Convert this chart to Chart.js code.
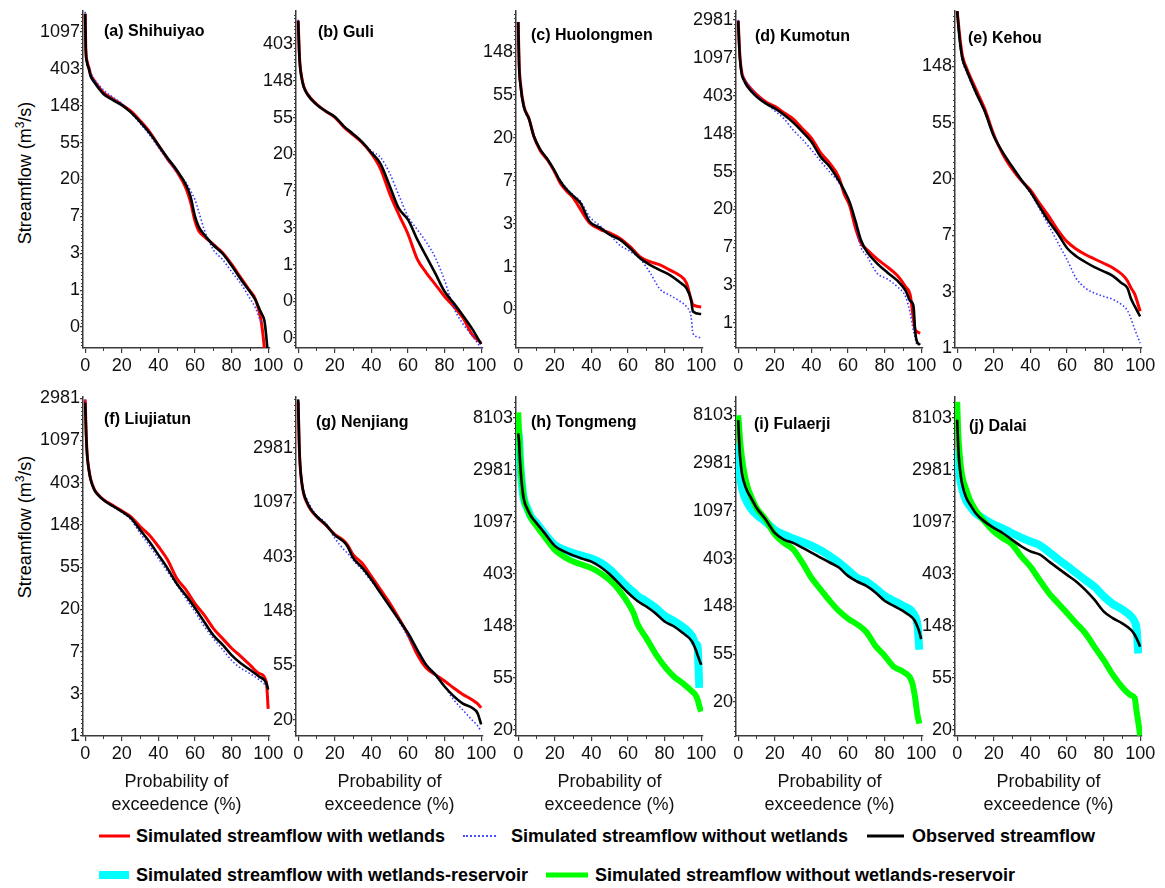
<!doctype html>
<html>
<head>
<meta charset="UTF-8">
<title>Flow duration curves</title>
<script src="https://cdn.jsdelivr.net/npm/chart.js@4.4.1/dist/chart.umd.min.js"></script>
<style>
  body { margin: 0; background: #fff; font-family: "Liberation Sans", Arial, sans-serif; }
  #page { position: relative; width: 1165px; height: 888px; overflow: hidden; }
  canvas { position: absolute; }
  .ytitle { position: absolute; font-size: 18px; white-space: nowrap; color: #000;
            transform: translate(-50%, -50%) rotate(-90deg); }
  .ytitle sup { font-size: 12px; }
  .key { position: absolute; font-size: 18px; font-weight: bold; white-space: nowrap; color: #000;
         transform: translateY(-50%); }
  .swatch { position: absolute; transform: translateY(-50%); }
</style>
</head>
<body>
<div id="page">
  <div class="ytitle" style="left:24px;top:173px">Streamflow (m<sup>3</sup>/s)</div>
  <div class="ytitle" style="left:24px;top:527px">Streamflow (m<sup>3</sup>/s)</div>

  <div class="swatch" style="left:99px;top:836px;width:31px;height:3px;background:#ff0000"></div>
  <div class="key" style="left:136px;top:836px">Simulated streamflow with wetlands</div>
  <div class="swatch" style="left:463px;top:836px;width:33px;height:0;border-top:2px dotted #4a4aff"></div>
  <div class="key" style="left:511px;top:836px">Simulated streamflow without wetlands</div>
  <div class="swatch" style="left:867px;top:836px;width:37px;height:3px;background:#000"></div>
  <div class="key" style="left:912px;top:836px">Observed streamflow</div>

  <div class="swatch" style="left:99px;top:875px;width:30px;height:8px;background:#00ffff"></div>
  <div class="key" style="left:136px;top:875px">Simulated streamflow with wetlands-reservoir</div>
  <div class="swatch" style="left:546px;top:875px;width:42px;height:5px;background:#00ff00"></div>
  <div class="key" style="left:595px;top:875px">Simulated streamflow without wetlands-reservoir</div>
</div>

<script>
// probability of exceedence (%) and streamflow (m3/s)
const aP     = [0, 0.3, 1, 2, 3, 5, 10, 15, 20, 25, 30, 35, 40, 45, 50, 55, 57.5, 60, 62, 65, 70, 75, 80, 85, 89.4, 93, 96, 97, 98, 99, 99.6]
const aObs   = [1800, 700, 480, 403, 330, 280, 204, 174, 151, 124, 96, 72, 51, 36, 26, 17.5, 12.8, 7.4, 5.6, 4.5, 3.4, 2.7, 1.95, 1.35, 1.0, 0.77, 0.55, 0.5, 0.43, 0.28, 0.2]
const aWet   = [1800, 720, 500, 420, 345, 292, 212, 180, 153, 128, 99, 74, 51, 35, 25, 16, 11, 6.5, 5.0, 4.3, 3.45, 2.78, 2.02, 1.4, 1.02, 0.78, 0.45, 0.32, 0.2, null, null]
const aNoWet = [1900, 720, 510, 430, 365, 305, 228, 188, 158, 122, 92, 68, 48, 34, 25, 18.5, 15, 11.6, 8.5, 5.2, 3.0, 2.3, 1.65, 1.2, 0.84, 0.62, 0.43, 0.41, null, null, null]

const bP     = [0, 0.5, 1, 2, 3, 5, 10, 15, 20, 25, 30, 35, 40, 45, 50, 55, 60, 65, 70, 75, 80, 85, 90, 95, 100]
const bObs   = [760, 350, 224, 156, 127, 103, 78, 65, 56, 43, 35, 28, 21, 15.5, 8.5, 4.6, 3.4, 2.0, 1.25, 0.78, 0.48, 0.35, 0.25, 0.175, 0.115]
const bWet   = [760, 360, 230, 160, 128, 104, 79, 65, 55, 42, 34, 27.5, 20.5, 13.5, 6.9, 3.9, 2.3, 1.17, 0.8, 0.58, 0.42, 0.32, 0.235, 0.15, 0.118]
const bNoWet = [780, 360, 230, 160, 128, 104, 79, 66, 56, 43, 35, 28, 22, 18.5, 12, 6.6, 3.7, 2.6, 1.85, 1.2, 0.65, 0.31, 0.2, 0.145, 0.103]

const cP     = [0, 0.5, 1.3, 3, 6, 8.5, 12, 16, 19.5, 23, 26.5, 30, 34, 39, 45, 50, 55.5, 61, 66.5, 72, 77.5, 83, 88, 92, 94.5, 95.5, 100]
const cObs   = [300, 109, 68, 42, 31, 21, 15.4, 12.2, 9.6, 7.3, 6.0, 5.2, 4.4, 2.86, 2.45, 2.1, 1.87, 1.54, 1.22, 1.04, 0.92, 0.82, 0.7, 0.6, 0.46, 0.35, 0.33]
const cWet   = [300, 115, 70, 43, 31, 21, 15, 12, 9.4, 7.0, 5.8, 5.0, 3.8, 2.77, 2.37, 2.19, 1.94, 1.6, 1.26, 1.12, 1.04, 0.92, 0.82, 0.68, 0.46, 0.41, 0.39]
const cNoWet = [300, 105, 66, 41, 30, 21, 15.5, 12.3, 9.7, 7.5, 6.2, 5.3, 4.6, 3.2, 2.56, 2.1, 1.65, 1.43, 1.2, 0.87, 0.59, 0.51, 0.45, 0.39, 0.31, 0.21, 0.19]

const dP     = [0, 0.5, 1, 2, 3, 5, 10, 15, 20, 25, 30, 35, 40, 45, 50, 55, 58, 61, 64, 67, 70.5, 76, 81.5, 87, 91.5, 94, 95.8, 96.7, 97.6, 99.4]
const dObs   = [2900, 1630, 1050, 706, 615, 517, 395, 330, 290, 245, 200, 157, 120, 81, 62, 43, 33, 24, 15, 9, 6.5, 4.8, 3.8, 3.06, 2.35, 1.8, 1.57, 0.81, 0.62, 0.56]
const dWet   = [2950, 1700, 1100, 740, 640, 545, 420, 345, 305, 258, 220, 170, 132, 90, 68, 47, 30, 22, 12.5, 8.3, 6.9, 5.4, 4.4, 3.5, 2.6, 2.1, 1.1, 0.84, 0.8, 0.76]
const dNoWet = [3000, 1700, 1120, 760, 660, 560, 415, 337, 270, 221, 164, 128, 97, 72, 54, 41, 32, 24, 14, 7.5, 5.8, 3.7, 3.2, 2.6, 2.0, 1.3, 0.81, 0.68, 0.56, null]

const eP     = [0, 1, 2, 3, 5, 10, 15, 20, 25, 30, 35, 40, 45, 50, 55, 60, 65, 70, 75, 80, 85, 90, 93, 95, 97, 100]
const eObs   = [395, 268, 200, 167, 140, 95, 67, 43, 32, 25, 19.8, 16, 12.3, 9.5, 7.6, 5.9, 5.1, 4.6, 4.2, 3.9, 3.6, 3.15, 2.9, 2.4, 2.1, 1.75]
const eWet   = [395, 285, 215, 175, 145, 100, 70, 44, 31, 24, 19.5, 16.5, 13, 10.4, 8.1, 6.6, 5.8, 5.25, 4.85, 4.5, 4.15, 3.7, 3.3, 2.9, 2.6, 1.92]
const eNoWet = [395, 260, 190, 160, 135, 93, 66, 43, 32, 25, 19.5, 15.6, 11.8, 8.8, 6.5, 4.8, 3.45, 2.9, 2.65, 2.5, 2.37, 2.15, 1.95, 1.68, 1.4, 1.09]

const fP     = [0, 0.5, 1, 2, 3, 5, 7, 10, 15, 20, 25, 30, 35, 40, 45, 50, 55, 60, 65, 70, 75, 80, 85, 90, 95, 99, 100]
const fObs   = [2700, 1300, 810, 545, 432, 340, 302, 268, 233, 204, 174, 132, 100, 73, 53, 37, 28, 20.7, 15, 10.9, 8.7, 6.8, 5.6, 4.8, 4.1, 3.5, 3.0]
const fWet   = [2900, 1350, 830, 555, 440, 345, 305, 270, 236, 207, 180, 143, 117, 89, 65, 42, 32, 23, 17.6, 12.8, 10.1, 8, 6.6, 5.4, 4.4, 3.6, 1.9]
const fNoWet = [2900, 1300, 800, 540, 430, 340, 305, 270, 233, 200, 168, 122, 92, 67, 49, 36, 26, 19, 13.5, 10.1, 7.8, 6.0, 5.0, 4.4, 3.8, 3.3, 3.2]

const gP     = [0, 0.5, 1, 2, 3, 5, 7, 10, 15, 20, 25, 27, 30, 35, 40, 45, 50, 55, 60, 65, 70, 75, 80, 85, 90, 95, 98, 100]
const gObs   = [7300, 3460, 2250, 1570, 1300, 1085, 960, 850, 730, 600, 530, 487, 395, 330, 265, 207, 162, 127, 99, 73, 55, 46, 37, 31, 27, 25, 22.7, 18.4]
const gWet   = [7000, 3300, 2200, 1550, 1280, 1070, 950, 845, 725, 610, 540, 500, 420, 358, 281, 220, 172, 130, 96, 67, 52, 46, 41, 36, 32, 29, 27, 25]
const gNoWet = [7300, 3500, 2300, 1620, 1330, 1150, 1000, 870, 750, 567, 459, 430, 380, 317, 257, 207, 162, 123, 93, 71, 55, 45, 37, 29, 24, 20, 18, 16.2]

const hP     = [0, 0.5, 1, 2, 3, 5, 7, 10, 15, 20, 25, 30, 35, 40, 45, 50, 55, 60, 63, 65, 70, 75, 80, 85, 90, 95, 97, 98, 99, 100]
const hObs   = [6000, 5000, 3500, 2250, 1720, 1400, 1220, 1070, 860, 690, 620, 575, 540, 510, 460, 400, 335, 280, 255, 240, 215, 189, 161, 147, 129, 110, 94, 85, 77, 70]
const hRes   = [6400, 5300, 3600, 2300, 1730, 1420, 1210, 1070, 850, 700, 640, 600, 570, 540, 500, 440, 370, 310, 285, 265, 238, 210, 180, 163, 145, 122, 105, 100, 45, null]
const hNoRes = [9000, 6000, 3900, 2400, 1750, 1380, 1180, 1010, 800, 640, 560, 510, 480, 450, 408, 358, 296, 230, 190, 156, 117, 87, 68, 56, 49, 42, 39, 36, 31.6, 28.5]

const iP     = [0, 0.5, 1, 2, 3, 5, 7, 10, 15, 20, 25, 30, 35, 40, 45, 50, 55, 60, 65, 70, 75, 80, 85, 90, 95, 96.5, 98, 99, 100]
const iObs   = [7300, 4850, 3430, 2420, 2030, 1650, 1440, 1170, 915, 690, 600, 560, 507, 458, 412, 372, 335, 281, 250, 228, 199, 167, 150, 135, 118, 110, 97, 87, 75]
const iRes   = [4500, 3000, 2300, 1800, 1550, 1300, 1150, 1010, 870, 735, 665, 615, 570, 530, 480, 425, 372, 317, 270, 250, 217, 185, 167, 151, 134, 122, 100, 60, null]
const iNoRes = [8100, 6500, 4850, 3400, 2600, 1830, 1490, 1170, 915, 670, 560, 490, 372, 270, 212, 167, 135, 115, 102, 87, 65, 53, 42, 38, 30.5, 23, 15.2, 12.8, null]

const jP     = [0, 0.5, 1, 2, 3, 5, 7, 10, 15, 20, 25, 30, 35, 40, 45, 50, 55, 60, 65, 70, 75, 80, 85, 90, 95, 97, 98, 99, 100]
const jObs   = [7800, 4970, 3620, 2620, 2160, 1730, 1530, 1300, 1100, 975, 880, 775, 685, 620, 585, 513, 450, 395, 348, 296, 245, 196, 172, 156, 137, 125, 117, 108, 99]
const jRes   = [4400, 3500, 2980, 2320, 2000, 1640, 1480, 1300, 1150, 1040, 960, 880, 810, 750, 700, 615, 535, 470, 410, 358, 314, 262, 226, 204, 178, 160, 141, 87, null]
const jNoRes = [11000, 6500, 4670, 3170, 2540, 2030, 1670, 1380, 1100, 910, 800, 710, 563, 463, 358, 280, 230, 190, 156, 129, 99, 77, 58, 46, 39, 37, 29, 23, 18]

const xTicks = [0, 20, 40, 60, 80, 100]
const xMinor = [10, 30, 50, 70, 90]

const FONT = '"Liberation Sans", Arial, sans-serif'
const AXIS = '#3a3a3a'

const STYLE = {
  obs:   { borderColor: '#000000', borderWidth: 2.6 },
  wet:   { borderColor: '#ff0000', borderWidth: 3 },
  nowet: { borderColor: '#3a3aff', borderWidth: 1.6, borderDash: [1.5, 2.2] },
  res:   { borderColor: '#00ffff', borderWidth: 8 },
  nores: { borderColor: '#00ff00', borderWidth: 6 }
}

// y ranges are natural-log limits of each panel
const panels = [
  { title: '(a) Shihuiyao',  row: 0, col: 0, ln: [-1.57, 7.57], tx: 21, ty: 21, p: aP, lines: [['obs', aObs], ['nowet', aNoWet], ['wet', aWet]] },
  { title: '(b) Guli',       row: 0, col: 1, ln: [-2.27, 6.9],  tx: 22, ty: 22, p: bP, lines: [['obs', bObs], ['nowet', bNoWet], ['wet', bWet]] },
  { title: '(c) Huolongmen', row: 0, col: 2, ln: [-1.9, 5.96],  tx: 15, ty: 25, p: cP, lines: [['obs', cObs], ['nowet', cNoWet], ['wet', cWet]] },
  { title: '(d) Kumotun',    row: 0, col: 3, ln: [-0.66, 8.24], tx: 19, ty: 26, p: dP, lines: [['obs', dObs], ['nowet', dNoWet], ['wet', dWet]] },
  { title: '(e) Kehou',      row: 0, col: 4, ln: [0, 5.98],     tx: 13, ty: 28, p: eP, lines: [['obs', eObs], ['nowet', eNoWet], ['wet', eWet]] },
  { title: '(f) Liujiatun',  row: 1, col: 0, ln: [0, 8.03],     tx: 21, ty: 23, p: fP, lines: [['obs', fObs], ['nowet', fNoWet], ['wet', fWet]] },
  { title: '(g) Nenjiang',   row: 1, col: 1, ln: [2.7, 8.94],   tx: 20, ty: 26, p: gP, lines: [['obs', gObs], ['nowet', gNoWet], ['wet', gWet]] },
  { title: '(h) Tongmeng',   row: 1, col: 2, ln: [2.88, 9.4],   tx: 15, ty: 26, p: hP, lines: [['obs', hObs], ['nores', hNoRes], ['res', hRes]] },
  { title: '(i) Fulaerji',   row: 1, col: 3, ln: [2.29, 9.38],  tx: 18, ty: 28, p: iP, lines: [['obs', iObs], ['nores', iNoRes], ['res', iRes]] },
  { title: '(j) Dalai',      row: 1, col: 4, ln: [2.88, 9.4],   tx: 14, ty: 30, p: jP, lines: [['obs', jObs], ['nores', jNoRes], ['res', jRes]] }
]

const ROWS = [
  { top: 11,  bottom: 348, padTop: 11, axisH: 36, xTitle: false },
  { top: 397, bottom: 736, padTop: 14, axisH: 82, xTitle: true }
]
const COL_LEFT = [83, 296, 516, 736, 955]
const Y_AXIS_W = 80, PAD_RIGHT = 20, PLOT_W = 187

// minor ticks + panel label
const deco = {
  id: 'deco',
  afterDraw(chart, args, o) {
    const ctx = chart.ctx, a = chart.chartArea
    const x = chart.scales.x, y = chart.scales.y
    ctx.save()
    ctx.strokeStyle = AXIS
    ctx.lineWidth = 1
    ctx.beginPath()
    xMinor.forEach(v => {
      const px = Math.round(x.getPixelForValue(v)) + 0.5
      ctx.moveTo(px, a.bottom); ctx.lineTo(px, a.bottom + 3)
    })
    const lo = Math.log(y.min), hi = Math.log(y.max)
    for (let k = Math.floor(lo); k < hi; k++) {
      for (let j = 1; j < 10; j++) {
        const v = k + j / 10
        if (v <= lo || v >= hi) continue
        const py = Math.round(y.getPixelForValue(Math.exp(v))) + 0.5
        ctx.moveTo(a.left, py); ctx.lineTo(a.left - 2, py)
      }
    }
    ctx.stroke()
    ctx.fillStyle = '#000'
    ctx.font = 'bold 16px ' + FONT
    ctx.textBaseline = 'middle'
    ctx.fillText(o.title, a.left + o.dx, a.top + o.dy)
    ctx.restore()
  }
}

const page = document.getElementById('page')

panels.forEach(pn => {
  const row = ROWS[pn.row]
  const w = Y_AXIS_W + PLOT_W + PAD_RIGHT
  const h = row.padTop + (row.bottom - row.top) + row.axisH
  const cv = document.createElement('canvas')
  cv.width = w; cv.height = h
  cv.style.left = (COL_LEFT[pn.col] - Y_AXIS_W) + 'px'
  cv.style.top = (row.top - row.padTop) + 'px'
  cv.style.width = w + 'px'; cv.style.height = h + 'px'
  page.appendChild(cv)

  const datasets = pn.lines.map(([kind, vals]) => Object.assign({
    data: pn.p.map((p, i) => ({ x: p, y: vals[i] })).filter(d => d.y !== null),
    pointRadius: 0,
    fill: false,
    cubicInterpolationMode: 'monotone'
  }, STYLE[kind]))

  const yTicks = []
  for (let k = Math.ceil(pn.ln[0]); k <= Math.floor(pn.ln[1]); k++) yTicks.push(Math.exp(k))

  new Chart(cv, {
    type: 'line',
    data: { datasets },
    plugins: [deco],
    options: {
      responsive: false,
      devicePixelRatio: 1,
      animation: false,
      events: [],
      layout: { padding: { left: 0, right: PAD_RIGHT, top: row.padTop, bottom: 0 } },
      plugins: {
        legend: { display: false },
        tooltip: { enabled: false },
        deco: { title: pn.title, dx: pn.tx, dy: pn.ty }
      },
      scales: {
        x: {
          type: 'linear', min: -1.2, max: 101, bounds: 'data',
          afterBuildTicks: s => { s.ticks = xTicks.map(v => ({ value: v })) },
          afterFit: s => { s.height = row.axisH },
          ticks: { autoSkip: false, maxRotation: 0, minRotation: 0, padding: 2, color: '#111',
                   font: { size: 18, family: FONT }, callback: v => String(v) },
          grid: { display: true, drawOnChartArea: false, drawTicks: true, tickLength: 5, color: AXIS, lineWidth: 1.2 },
          border: { display: true, color: AXIS, width: 1.5 },
          title: { display: row.xTitle, text: ['Probability of', 'exceedence (%)'], color: '#111',
                   font: { size: 18, family: FONT, lineHeight: 1.3 }, padding: { top: 0, bottom: 1 } }
        },
        y: {
          type: 'logarithmic', min: Math.exp(pn.ln[0]), max: Math.exp(pn.ln[1]), bounds: 'data',
          afterBuildTicks: s => { s.ticks = yTicks.map(v => ({ value: v })) },
          afterFit: s => { s.width = Y_AXIS_W },
          ticks: { autoSkip: false, padding: 0, color: '#111', font: { size: 18, family: FONT },
                   callback: v => String(Math.round(v)) },
          grid: { display: true, drawOnChartArea: false, drawTicks: true, tickLength: 3, color: AXIS, lineWidth: 1.2 },
          border: { display: true, color: AXIS, width: 1.5 }
        }
      }
    }
  })
})
</script>
</body>
</html>
